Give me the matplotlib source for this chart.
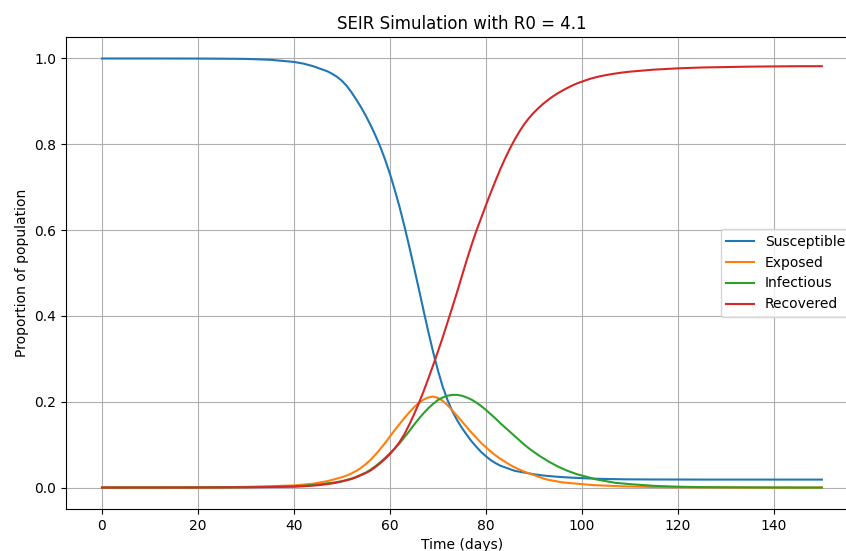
import matplotlib
matplotlib.use("Agg")
import matplotlib.pyplot as plt

# time points (days): coarse on the flat tails, daily through the epidemic
days = [0, 5, 10, 15, 20, 25, 30, 35,
        40, 41, 42, 43, 44, 45, 46, 47, 48, 49,
        50, 51, 52, 53, 54, 55, 56, 57, 58, 59,
        60, 61, 62, 63, 64, 65, 66, 67, 68, 69,
        70, 71, 72, 73, 74, 75, 76, 77, 78, 79,
        80, 81, 82, 83, 84, 85, 86, 87, 88, 89,
        90, 91, 92, 93, 94, 95, 96, 97, 98, 99,
        100, 101, 102, 103, 104, 105, 106, 107, 108, 109, 110,
        115, 120, 125, 130, 135, 140, 145, 150]

susceptible = [1.0, 1.0, 1.0, 0.9999, 0.9998, 0.9995, 0.999, 0.997,
               0.992, 0.990, 0.988, 0.985, 0.982, 0.978, 0.974, 0.970, 0.964, 0.957,
               0.948, 0.936, 0.921, 0.904, 0.886, 0.866, 0.844, 0.820, 0.794, 0.764,
               0.731, 0.694, 0.654, 0.610, 0.563, 0.514, 0.464, 0.413, 0.363, 0.316,
               0.273, 0.235, 0.204, 0.178, 0.157, 0.139, 0.123, 0.108, 0.095, 0.083,
               0.073, 0.064, 0.057, 0.051, 0.047, 0.043, 0.039, 0.037, 0.035, 0.033,
               0.031, 0.0295, 0.028, 0.027, 0.026, 0.025, 0.0243, 0.0236, 0.023, 0.0225,
               0.022, 0.0215, 0.021, 0.0206, 0.0203, 0.020, 0.0198, 0.0196, 0.0194, 0.0192, 0.0191,
               0.0188, 0.0187, 0.0186, 0.0186, 0.0186, 0.0186, 0.0186, 0.0186]

exposed = [0.0, 0.0001, 0.0002, 0.0003, 0.0005, 0.0009, 0.0016, 0.003,
           0.005, 0.006, 0.007, 0.008, 0.009, 0.011, 0.013, 0.015, 0.018, 0.021,
           0.024, 0.028, 0.033, 0.039, 0.046, 0.055, 0.065, 0.077, 0.090, 0.104,
           0.119, 0.134, 0.148, 0.162, 0.175, 0.187, 0.197, 0.205, 0.210, 0.212,
           0.209, 0.202, 0.192, 0.180, 0.167, 0.154, 0.141, 0.128, 0.116, 0.104,
           0.094, 0.084, 0.075, 0.067, 0.060, 0.053, 0.047, 0.042, 0.037, 0.033,
           0.029, 0.025, 0.021, 0.018, 0.016, 0.014, 0.012, 0.011, 0.010, 0.009,
           0.008, 0.007, 0.006, 0.0055, 0.005, 0.0045, 0.004, 0.0035, 0.003, 0.0027, 0.0024,
           0.0013, 0.0007, 0.0004, 0.0002, 0.0001, 0.0001, 0.0, 0.0]

infectious = [0.0, 0.0001, 0.0001, 0.0002, 0.0003, 0.0005, 0.0009, 0.0017,
              0.003, 0.0035, 0.004, 0.005, 0.006, 0.007, 0.008, 0.010, 0.011, 0.013,
              0.015, 0.018, 0.021, 0.025, 0.030, 0.035, 0.042, 0.050, 0.059, 0.069,
              0.080, 0.091, 0.103, 0.117, 0.131, 0.146, 0.160, 0.173, 0.185, 0.195,
              0.204, 0.210, 0.214, 0.216, 0.216, 0.214, 0.210, 0.205, 0.198, 0.190,
              0.181, 0.171, 0.161, 0.150, 0.140, 0.130, 0.120, 0.110, 0.100, 0.091,
              0.083, 0.075, 0.068, 0.061, 0.055, 0.049, 0.044, 0.039, 0.035, 0.031,
              0.028, 0.025, 0.022, 0.019, 0.017, 0.015, 0.013, 0.011, 0.010, 0.009, 0.008,
              0.004, 0.002, 0.001, 0.0006, 0.0004, 0.0002, 0.0001, 0.0001]

recovered = [0.0, 0.0, 0.0, 0.0001, 0.0002, 0.0003, 0.0006, 0.0012,
             0.002, 0.0025, 0.003, 0.0037, 0.0045, 0.0055, 0.0067, 0.0081, 0.0098, 0.0118,
             0.0142, 0.017, 0.020, 0.024, 0.029, 0.034, 0.040, 0.048, 0.057, 0.067,
             0.078, 0.091, 0.106, 0.124, 0.146, 0.170, 0.196, 0.224, 0.254, 0.285,
             0.317, 0.350, 0.385, 0.420, 0.456, 0.493, 0.530, 0.565, 0.598, 0.628,
             0.658, 0.687, 0.715, 0.742, 0.767, 0.790, 0.811, 0.830, 0.847, 0.8615,
             0.874, 0.885, 0.895, 0.904, 0.912, 0.919, 0.9255, 0.9315, 0.937, 0.942,
             0.946, 0.950, 0.9535, 0.9565, 0.959, 0.9612, 0.9632, 0.965, 0.9666, 0.968, 0.9693,
             0.974, 0.977, 0.979, 0.980, 0.981, 0.9815, 0.982, 0.982]

fig = plt.figure(figsize=(8.46, 5.51), dpi=100)
# axes run past the right edge like the cropped reference
ax = fig.add_axes([0.078, 0.0762, 0.936, 0.8566])

ax.plot(days, susceptible, label='Susceptible')
ax.plot(days, exposed, label='Exposed')
ax.plot(days, infectious, label='Infectious')
ax.plot(days, recovered, label='Recovered')

ax.set_xlim(-7.5, 157.5)
ax.set_ylim(-0.05, 1.05)
ax.set_xticks([0, 20, 40, 60, 80, 100, 120, 140])
ax.set_yticks([0.0, 0.2, 0.4, 0.6, 0.8, 1.0])

ax.set_title('SEIR Simulation with R0 = 4.1')
ax.set_xlabel('Time (days)')
ax.set_ylabel('Proportion of population')
ax.legend(loc='center right')
ax.grid(True)

fig.savefig('out.png', dpi=100)
plt.close(fig)
